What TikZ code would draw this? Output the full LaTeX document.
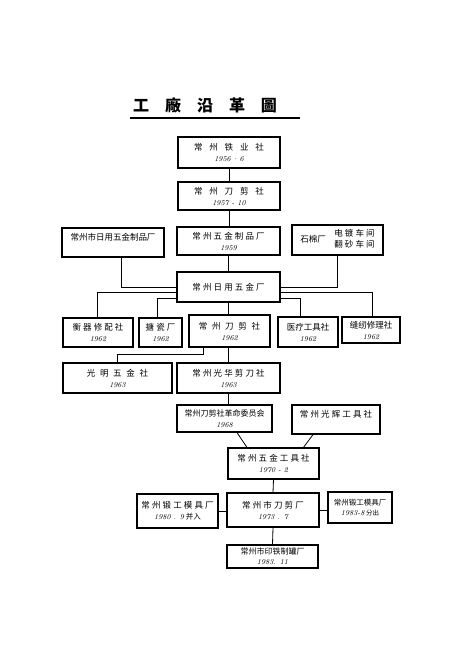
\documentclass[tikz,border=0pt]{standalone}
\usepackage{fontspec}
\newfontfamily\cjk{Noto Sans CJK SC}
\newfontfamily\cjkw[LetterSpace=80]{Noto Sans CJK SC}
\newfontfamily\cjkv[LetterSpace=55]{Noto Sans CJK SC}
\newfontfamily\cjkm[LetterSpace=25]{Noto Sans CJK SC}
\newfontfamily\cjkt[LetterSpace=100]{Noto Sans CJK SC}
\newcommand\yrf{\rmfamily\itshape\fontsize{7.5}{9}\selectfont}
\begin{document}
\begin{tikzpicture}[x=1pt,y=-1pt,
  box/.style={draw, line width=1.2pt, inner sep=0pt, align=center,
    font=\cjk\fontsize{8.5}{11}\selectfont},
  link/.style={line width=0.8pt}]
\useasboundingbox (0,0) rectangle (450,657);
% title
\node[font=\cjkt\bfseries\fontsize{16}{18}\selectfont, inner sep=0pt] (title) at (205,105) {工廠沿革圖};
\draw[line width=1.8pt] (130,118) -- (300,118);
% boxes
\node[box, minimum width=102pt, minimum height=31pt] (n1) at (229,152.5)
  {{\cjkw 常州铁业社}\\{\yrf 1956\,·\,6}};
\node[box, minimum width=102pt, minimum height=28pt] (n2) at (229,196)
  {{\cjkw 常州刀剪社}\\{\yrf 1957 - 10}};
\node[box, minimum width=102pt, minimum height=29pt] (a3) at (113,242.5)
  {常州市日用五金制品厂\\{}};
\node[box, minimum width=103pt, minimum height=28pt] (b3) at (228.5,241)
  {{\cjkm 常州五金制品厂}\\{\yrf 1959}};
\node[box, minimum width=91pt, minimum height=30pt] (c3) at (337.5,240)
  {石棉厂\quad\begin{tabular}{@{}l@{}}{\cjkm 电镀车间}\\{\cjkm 翻砂车间}\end{tabular}};
\node[box, minimum width=103pt, minimum height=30pt] (ctr) at (228.5,287)
  {{\cjkm 常州日用五金厂}};
\node[box, minimum width=70pt, minimum height=29pt] (r1) at (98,332.5)
  {{\cjkm 衡器修配社}\\{\yrf 1962}};
\node[box, minimum width=43pt, minimum height=29pt] (r2) at (160.5,332.5)
  {{\cjkm 搪瓷厂}\\{\yrf 1962}};
\node[box, minimum width=81pt, minimum height=32pt] (r3) at (229.5,331)
  {{\cjkv 常州刀剪社}\\{\yrf 1962}};
\node[box, minimum width=60pt, minimum height=30pt] (r4) at (308,332)
  {医疗工具社\\{\yrf 1962}};
\node[box, minimum width=58pt, minimum height=26pt] (r5) at (371,330)
  {缝纫修理社\\{\yrf 1962}};
\node[box, minimum width=109pt, minimum height=30pt] (gm) at (117.5,378)
  {{\cjkv 光明五金社}\\{\yrf 1963}};
\node[box, minimum width=103pt, minimum height=30pt] (gh) at (228.5,378)
  {{\cjkm 常州光华剪刀社}\\{\yrf 1963}};
\node[box, minimum width=95pt, minimum height=27pt, font=\cjk\fontsize{8}{11}\selectfont] (gw) at (224.5,418.5)
  {常州刀剪社革命委员会\\{\yrf 1968}};
\node[box, minimum width=88pt, minimum height=29pt] (gf) at (336,419.5)
  {{\cjkm 常州光辉工具社}\\{}};
\node[box, minimum width=91pt, minimum height=31pt] (wj) at (273.5,463.5)
  {{\cjkm 常州五金工具社}\\{\yrf 1970 - 2}};
\node[box, minimum width=92pt, minimum height=34pt] (dj) at (273,510)
  {{\cjkm 常州市刀剪厂}\\{\yrf 1973 . 7}};
\node[box, minimum width=81pt, minimum height=34pt] (dl) at (177.5,511)
  {{\cjkm 常州锻工模具厂}\\{\yrf 1980 . 9} {\fontsize{7.5}{9}\selectfont 并入}};
\node[box, minimum width=64pt, minimum height=31pt, font=\cjk\fontsize{7.5}{10}\selectfont] (dr) at (360,507.5)
  {常州锻工模具厂\\{\yrf 1983-8} {\fontsize{6.5}{9}\selectfont 分出}};
\node[box, minimum width=91pt, minimum height=23pt, font=\cjk\fontsize{8}{10}\selectfont] (yt) at (272.5,556.5)
  {常州市印铁制罐厂\\{\yrf 1983. 11}};
% connectors
\draw[link] (n1.south) -- (n2.north);
\draw[link] (n2.south) -- (n2.south |- b3.north);
\draw[link] ([xshift=8pt]a3.south) |- (ctr.west);
\draw[link] (b3.south) -- (ctr.north);
\draw[link] (c3.south) |- (ctr.east);
\draw[link] ([yshift=-5pt]ctr.west) -| ([xshift=-1pt]r1.north);
\draw[link] ([yshift=-11pt]ctr.west) -| ([xshift=-3.5pt]r2.north);
\draw[link] ([yshift=-5pt]ctr.east) -| ([xshift=1pt]r5.north);
\draw[link] ([yshift=-11pt]ctr.east) -| ([xshift=-8pt]r4.north);
\draw[link] (ctr.south) -- (ctr.south |- r3.north);
\draw[link] ([xshift=-26.5pt]r3.south) |- ([yshift=8pt]gm.north) -- (gm.north);
\draw[link] (gh.north |- r3.south) -- (gh.north);
\draw[link] (gh.south) -- (gh.south |- gw.north);
\draw[link] ([xshift=12.5pt]gw.south) -- ([xshift=-26.5pt]wj.north);
\draw[link] ([xshift=-23pt]gf.south) -- ([xshift=30pt]wj.north);
\draw[link] (wj.south) -- (dj.north);
\draw[link] (dl.east) -- (dl.east -| dj.west);
\draw[link] (dj.east) -- (dj.east -| dr.west);
\draw[link] (dj.south) -- (yt.north);
\end{tikzpicture}
\end{document}
